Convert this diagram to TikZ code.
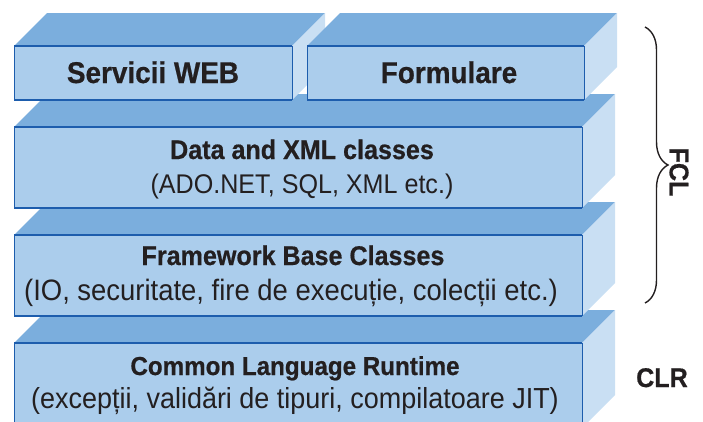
\documentclass[tikz,border=0pt]{standalone}
\usepackage{fontspec}
\setmainfont[FakeStretch=0.93, BoldFeatures={FakeBold=0.6}]{Liberation Sans}
\usetikzlibrary{decorations.pathreplacing}

\definecolor{topface}{HTML}{7BAEDD}
\definecolor{frontface}{HTML}{ABCDEC}
\definecolor{sideface}{HTML}{C9DFF3}
\definecolor{edgeblue}{HTML}{1D5DAD}
\definecolor{inkdark}{HTML}{231F20}

% One block: front face given by left, top, right, bottom; depth 33 at 45 degrees
\newcommand\drawslab[4]{%
  \fill[topface] (#1,#2) -- (#1+33,#2-33) -- (#3+33,#2-33) -- (#3,#2) -- cycle;
  \fill[sideface] (#3,#2) -- (#3+33,#2-33) -- (#3+33,#4-33) -- (#3,#4) -- cycle;
  \fill[frontface] (#1,#2) rectangle (#3,#4);
  \draw[edgeblue, line width=0.6pt] (#1,#2) -- (#1,#4) (#3,#2) -- (#3,#4);
  \draw[edgeblue, line width=1.3pt] (#1,#2) -- (#3,#2) (#1,#4) -- (#3,#4);
}

\tikzset{
  boldlabel/.style={font=\fontsize{27}{30}\selectfont\bfseries, text=inkdark, inner sep=0pt, anchor=base},
  toplabel/.style={font=\fontsize{30}{33}\selectfont\bfseries, text=inkdark, inner sep=0pt, anchor=base},
  plainlabel/.style={font=\fontsize{29}{32}\selectfont, text=inkdark, inner sep=0pt, anchor=base},
}

\begin{document}
\begin{tikzpicture}[x=1pt, y=-1pt]
  \clip (0,0) rectangle (703,421);

  % stack, drawn from the bottom up so that upper blocks cover lower ones
  \drawslab{14}{343}{582}{428}
  \drawslab{14}{235}{582}{316}
  \drawslab{14}{127}{582}{208}
  \drawslab{14}{46}{292}{100}
  \drawslab{307}{46}{584}{100}

  % texts
  \node[toplabel] (web) at (153,83) {Servicii WEB};
  \node[toplabel] (forms) at (449,83) {Formulare};

  \node[boldlabel] (data) at (302,159) {Data and XML classes};
  \node[plainlabel, font=\fontsize{27}{30}\selectfont] (datasub) at (302,193) {(ADO.NET, SQL, XML etc.)};

  \node[boldlabel] (base) at (293,265) {Framework Base Classes};
  \node[plainlabel, font=\fontsize{29.5}{32}\selectfont] (basesub) at (291,300) {(IO, securitate, fire de execuție, colecții etc.)};

  \node[boldlabel, font=\fontsize{26}{29}\selectfont\bfseries] (clr) at (295,375) {Common Language Runtime};
  \node[plainlabel] (clrsub) at (295,408) {(excepții, validări de tipuri, compilatoare JIT)};

  % side labels
  \node[boldlabel] (clrtag) at (662,387) {CLR};
  \coordinate (bracetop) at (645,27);
  \coordinate (bracebot) at (645,303);
  \draw[inkdark, line width=1.4pt, decorate, decoration={brace, amplitude=23pt}] (bracetop) -- (bracebot);
  \node[boldlabel, anchor=center, rotate=-90] (fcltag) at (679,172) {FCL};
\end{tikzpicture}
\end{document}
